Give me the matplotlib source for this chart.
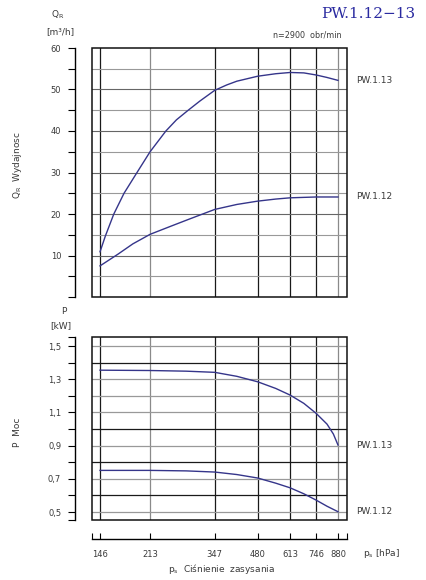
import matplotlib
matplotlib.use("Agg")
import matplotlib.pyplot as plt
from matplotlib.patches import Rectangle
from matplotlib.ticker import FixedLocator, NullLocator

plt.rcParams['font.family'] = 'DejaVu Sans'
plt.rcParams['mathtext.default'] = 'regular'

# pressure ticks (hPa), log scale
ps_ticks = [146, 213, 347, 480, 613, 746, 880]

# capacity Q_R [m3/h]
q13_ps = [146, 152, 162, 175, 193, 213, 240, 260, 284, 310, 347, 380, 410, 480, 550, 613, 680, 746, 810, 880]
q13 = [10.9, 14.7, 20.0, 25.0, 30.0, 35.0, 40.0, 42.7, 45.0, 47.2, 49.8, 51.1, 52.0, 53.2, 53.8, 54.1, 54.0, 53.5, 52.9, 52.2]
q12_ps = [146, 167, 187, 213, 250, 287, 347, 410, 480, 550, 613, 746, 880]
q12 = [7.5, 10.3, 12.8, 15.1, 17.1, 18.8, 21.1, 22.3, 23.1, 23.6, 23.9, 24.1, 24.1]

# power P [kW]
p13_ps = [146, 213, 280, 347, 410, 480, 550, 613, 680, 746, 810, 850, 880]
p13 = [1.355, 1.353, 1.349, 1.342, 1.318, 1.285, 1.245, 1.205, 1.155, 1.095, 1.03, 0.97, 0.904]
p12_ps = [146, 213, 280, 347, 410, 480, 550, 613, 680, 746, 810, 880]
p12 = [0.751, 0.751, 0.748, 0.741, 0.726, 0.705, 0.674, 0.646, 0.61, 0.572, 0.535, 0.502]

q_ticks = [0, 5, 10, 15, 20, 25, 30, 35, 40, 45, 50, 55, 60]
q_labels = ['', '', '10', '', '20', '', '30', '', '40', '', '50', '', '60']
p_ticks = [0.5, 0.6, 0.7, 0.8, 0.9, 1.0, 1.1, 1.2, 1.3, 1.4, 1.5]
p_labels = ['0,5', '', '0,7', '', '0,9', '', '1,1', '', '1,3', '', '1,5']
p_dark = [0.6, 0.8, 1.0, 1.4]
x_gray = [213, 880]

x_lo, x_hi = 137.4, 942.0
p_lo, p_hi = 0.452, 1.555

W, H = 426, 580
txt = '#3a3a3a'
curve = '#35358a'

fig = plt.figure(figsize=(W / 100, H / 100), dpi=100)
fig.patch.set_facecolor('white')


def fx(px):
    return px / W


def fy(py):
    return 1 - py / H


ax1 = fig.add_axes([fx(92), fy(297), fx(347) - fx(92), fy(48) - fy(297)])
ax2 = fig.add_axes([fx(92), fy(520), fx(347) - fx(92), fy(337) - fy(520)])

for ax in (ax1, ax2):
    ax.set_xscale('log')
    ax.set_xlim(x_lo, x_hi)
    for s in ('top', 'right', 'bottom'):
        ax.spines[s].set_visible(False)
    ax.spines['left'].set_position(('outward', 12.2))
    ax.spines['left'].set_linewidth(1.0)
    ax.add_patch(Rectangle((0, 0), 1, 1, transform=ax.transAxes, fill=False,
                           ec='#111111', lw=1.1, clip_on=False, zorder=5))
    ax.tick_params(axis='y', direction='out', length=5, width=0.8,
                   labelsize=6, labelcolor=txt, pad=5)
    for x in ps_ticks:
        c = '#8a8a8a' if x in x_gray else '#1a1a1a'
        ax.axvline(x, color=c, lw=0.9, zorder=1)

# top panel
ax1.set_ylim(0, 60)
ax1.set_yticks(q_ticks)
ax1.set_yticklabels(q_labels)
ax1.xaxis.set_major_locator(NullLocator())
ax1.xaxis.set_minor_locator(NullLocator())
ax1.tick_params(axis='x', bottom=False, labelbottom=False)
for v in q_ticks[1:-1]:
    c = '#666666' if v % 10 == 0 else '#999999'
    ax1.axhline(v, color=c, lw=0.8, zorder=1)
ax1.plot(q13_ps, q13, color=curve, lw=1.0, zorder=3)
ax1.plot(q12_ps, q12, color=curve, lw=1.0, zorder=3)
ax1.annotate('PW.1.13', (q13_ps[-1], q13[-1]), xytext=(13, 0), textcoords='offset points',
             fontsize=6.5, color=txt, va='center', annotation_clip=False)
ax1.annotate('PW.1.12', (q12_ps[-1], q12[-1]), xytext=(13, 0), textcoords='offset points',
             fontsize=6.5, color=txt, va='center', annotation_clip=False)

# bottom panel
ax2.set_ylim(p_lo, p_hi)
ax2.set_yticks(p_ticks + [p_lo, p_hi])
ax2.set_yticklabels(p_labels + ['', ''])
ax2.spines['bottom'].set_visible(True)
ax2.spines['bottom'].set_position(('outward', 13.7))
ax2.spines['bottom'].set_linewidth(1.0)
ax2.xaxis.set_major_locator(FixedLocator(ps_ticks))
ax2.set_xticklabels([str(v) for v in ps_ticks])
ax2.xaxis.set_minor_locator(FixedLocator([x_lo, x_hi]))
ax2.tick_params(axis='x', which='both', direction='in', length=4, width=0.8,
                labelsize=6, labelcolor=txt, pad=8)
ax2.tick_params(axis='x', which='minor', labelbottom=False)
for v in p_ticks:
    c = '#1a1a1a' if v in p_dark else '#999999'
    ax2.axhline(v, color=c, lw=0.9, zorder=1)
ax2.plot(p13_ps, p13, color=curve, lw=1.0, zorder=3)
ax2.plot(p12_ps, p12, color=curve, lw=1.0, zorder=3)
ax2.annotate('PW.1.13', (p13_ps[-1], p13[-1]), xytext=(13, 0), textcoords='offset points',
             fontsize=6.5, color=txt, va='center', annotation_clip=False)
ax2.annotate('PW.1.12', (p12_ps[-1], p12[-1]), xytext=(13, 0), textcoords='offset points',
             fontsize=6.5, color=txt, va='center', annotation_clip=False)

# texts
fig.text(fx(415), fy(14), 'PW.1.12\u221213', family='DejaVu Serif', fontsize=11,
         color='#2a2aa0', ha='right', va='center')
fig.text(fx(307), fy(35), 'n=2900  obr/min', fontsize=5.8, color=txt, ha='center', va='center')
fig.text(fx(58), fy(15), 'Q$_R$', fontsize=6.5, color=txt, ha='center', va='center')
fig.text(fx(60), fy(32), '[m\u00b3/h]', fontsize=6.5, color=txt, ha='center', va='center')
fig.text(fx(64), fy(312), 'P', fontsize=6.5, color=txt, ha='center', va='center')
fig.text(fx(61), fy(326), '[kW]', fontsize=6.5, color=txt, ha='center', va='center')
fig.text(fx(18), fy(165), 'Q$_R$  Wydajnosc', fontsize=6.5, color=txt, rotation=90,
         ha='center', va='center')
fig.text(fx(18), fy(432), 'P  Moc', fontsize=6.5, color=txt, rotation=90,
         ha='center', va='center')
fig.text(fx(363), fy(554), 'p$_s$ [hPa]', fontsize=6.5, color=txt, ha='left', va='center')
fig.text(fx(222), fy(569), 'p$_s$  Ci\u015bnienie  zasysania', fontsize=6.5, color=txt,
         ha='center', va='center')

fig.savefig('out.png', dpi=100, facecolor='white')
